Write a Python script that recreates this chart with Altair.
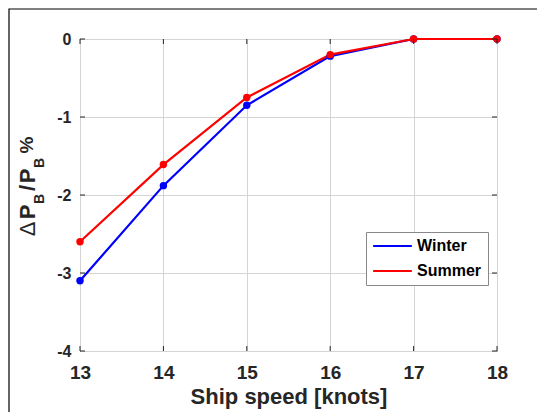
import altair as alt
import pandas as pd

# Ship speed [knots] and relative change in brake power [%]
speeds = [13, 14, 15, 16, 17, 18]
winter = [-3.10, -1.88, -0.85, -0.22, 0.0, 0.0]
summer = [-2.60, -1.61, -0.75, -0.20, 0.0, 0.0]
series_names = ["Winter", "Summer"]
series_colors = ["#0000FF", "#FF0000"]

x_ticks = [13, 14, 15, 16, 17, 18]
y_ticks = [-4, -3, -2, -1, 0]

FONT = "Liberation Sans"
INK = "#262626"
W, H = 417, 312

df = pd.concat([
    pd.DataFrame({"speed": speeds, "dp": winter, "season": "Winter"}),
    pd.DataFrame({"speed": speeds, "dp": summer, "season": "Summer"}),
])

plain_label = "'' + datum.value"

x_enc = alt.X("speed:Q", scale=alt.Scale(domain=[13, 18], nice=False),
              axis=alt.Axis(values=x_ticks, title="Ship speed [knots]", grid=True,
                            ticks=False, domain=False, labelFontSize=19,
                            labelFontWeight="bold", labelPadding=12,
                            labelFlush=False, labelExpr=plain_label,
                            titleFontSize=22, titleFontWeight="bold", titlePadding=4))
y_enc = alt.Y("dp:Q", scale=alt.Scale(domain=[-4, 0], nice=False),
              axis=alt.Axis(values=y_ticks, title=None, grid=True, ticks=False,
                            domain=False, labelFontSize=16, labelFontWeight="bold",
                            labelPadding=9, labelFlush=False, labelExpr=plain_label))
color_enc = alt.Color("season:N",
                      scale=alt.Scale(domain=series_names, range=series_colors),
                      legend=alt.Legend(orient="none", legendX=286, legendY=193,
                                        title=None, symbolType="stroke",
                                        symbolSize=1500, symbolStrokeWidth=2.2,
                                        clipHeight=16, rowPadding=9,
                                        labelFontSize=16, labelFontWeight="bold",
                                        labelOffset=4, padding=6,
                                        fillColor="white", strokeColor="#888888"))

lines = alt.Chart(df).mark_line(strokeWidth=2.2).encode(
    x=x_enc, y=y_enc, color=color_enc, order="speed:Q")
points = alt.Chart(df).mark_point(filled=True, size=55, opacity=1).encode(
    x="speed:Q", y="dp:Q", color=alt.Color("season:N", legend=None))

# inward tick marks on all four sides of the box
xt = pd.DataFrame({"v": x_ticks})
yt = pd.DataFrame({"v": y_ticks})
tick_style = dict(color=INK, strokeWidth=1)
ticks_bottom = alt.Chart(xt).mark_rule(**tick_style).encode(
    x="v:Q", y=alt.value(H), y2=alt.value(H - 5))
ticks_top = alt.Chart(xt).mark_rule(**tick_style).encode(
    x="v:Q", y=alt.value(0), y2=alt.value(5))
ticks_left = alt.Chart(yt).mark_rule(**tick_style).encode(
    y="v:Q", x=alt.value(0), x2=alt.value(5))
ticks_right = alt.Chart(yt).mark_rule(**tick_style).encode(
    y="v:Q", x=alt.value(W), x2=alt.value(W - 5))

# y-axis title with subscripts: ΔP_B/P_B %
title_parts = [
    ("\u0394", -52.5, 190, 22, "normal"),
    ("P", -52.5, 173, 22, "bold"),
    ("B", -40, 160, 14, "bold"),
    ("/", -52.5, 149, 22, "bold"),
    ("P", -52.5, 137, 22, "bold"),
    ("B", -40, 124, 14, "bold"),
    ("%", -53.5, 106, 19, "bold"),
]
title_layers = []
for txt, tx, ty, fs, fw in title_parts:
    title_layers.append(
        alt.Chart(pd.DataFrame({"t": [txt]})).mark_text(
            angle=270, align="center", baseline="middle", font=FONT,
            fontSize=fs, fontWeight=fw, color=INK
        ).encode(text="t:N", x=alt.value(tx), y=alt.value(ty))
    )

# outer figure frame
frame = alt.Chart(pd.DataFrame({"a": [0]})).mark_rect(
    fill=None, stroke="#000000", strokeWidth=1.2
).encode(x=alt.value(-71), x2=alt.value(700), y=alt.value(-30), y2=alt.value(600))

chart = alt.layer(
    frame, lines, points, ticks_bottom, ticks_top, ticks_left, ticks_right,
    *title_layers
).properties(
    width=W, height=H,
    autosize=alt.AutoSizeParams(type="none"),
    padding={"left": 80, "top": 39, "right": 40, "bottom": 61},
).configure(
    font=FONT,
).configure_view(
    stroke=INK, strokeWidth=1,
).configure_axis(
    gridColor="#d4d4d4", gridWidth=1, labelColor=INK, titleColor=INK,
    labelFont=FONT, titleFont=FONT,
).configure_legend(
    labelFont=FONT, labelColor="#000000",
)

chart.save("out.html", embed_options={"renderer": "svg", "actions": False})
